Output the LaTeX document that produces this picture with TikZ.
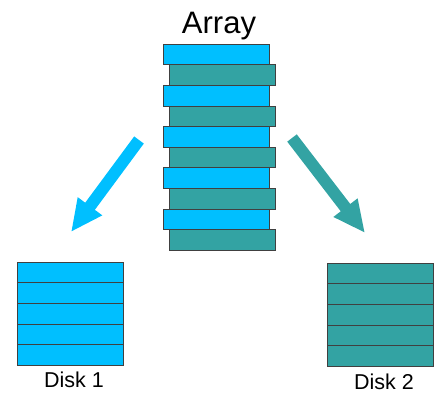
\documentclass[tikz,border=0pt]{standalone}
\usepackage{fontspec}
\setmainfont{Liberation Sans}
\usepackage{xcolor}
\usetikzlibrary{arrows.meta}
\definecolor{skyblue}{RGB}{0,191,255}
\definecolor{diskteal}{RGB}{51,163,163}

\begin{document}
\begin{tikzpicture}[x=1pt,y=-1pt,
  block/.style={draw=black!75,line width=0.6pt,minimum width=106pt,minimum height=20.6pt,inner sep=0pt,outer sep=0pt,anchor=north west},
  disklabel/.style={font=\fontsize{21.5}{22}\selectfont,anchor=base,inner sep=0pt},
  bigarrow/.style={line width=12pt,-{Triangle[length=32pt,width=28pt]}}]
\useasboundingbox (0,0) rectangle (436,397);

% Array stack
\foreach \i in {1,...,5} {
    \node[block,fill=skyblue] (b\i) at (163,{44+41.2*(\i-1)}) {};
    \node[block,fill=diskteal] (t\i) at (169,{64.6+41.2*(\i-1)}) {};
}
\node[anchor=base,inner sep=0pt,font=\fontsize{31}{31}\selectfont] (array) at (219,33) {Array};

% Disks
\foreach \i in {1,...,5} {
    \node[block,fill=skyblue] (l\i) at (17,{262+20.6*(\i-1)}) {};
    \node[block,fill=diskteal] (r\i) at (327,{263+20.6*(\i-1)}) {};
}
\node[disklabel] (disk1) at (74,387) {Disk 1};
\node[disklabel] (disk2) at (384,389) {Disk 2};

% Arrows
\coordinate (lfrom) at (139,140);
\coordinate (lto) at (71,232);
\coordinate (rfrom) at (292,138);
\coordinate (rto) at (365,233);
\draw[bigarrow,skyblue] (lfrom) -- (lto);
\draw[bigarrow,diskteal] (rfrom) -- (rto);
\end{tikzpicture}
\end{document}
